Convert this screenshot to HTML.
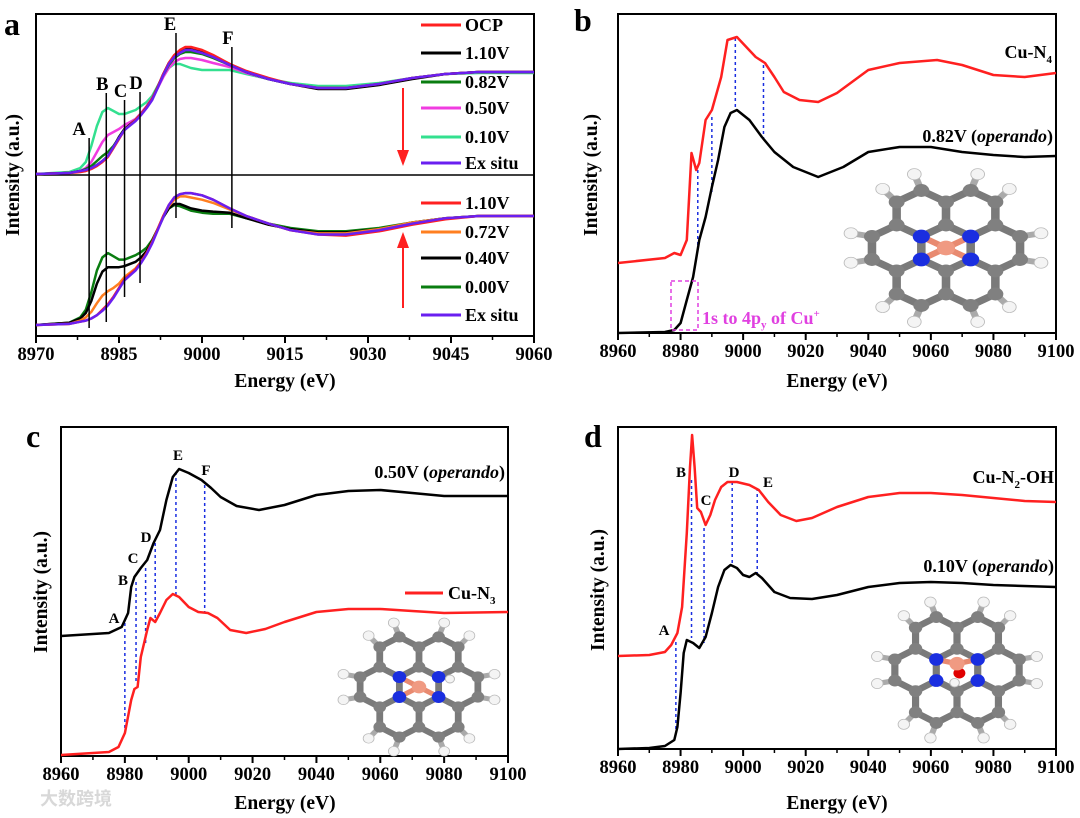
<!DOCTYPE html>
<html><head><meta charset="utf-8">
<style>
html,body{margin:0;padding:0;background:#fff;}
svg{display:block;font-family:"Liberation Serif","Noto Serif CJK SC",serif;}
.tk{font-size:18.5px;font-weight:bold;}
.at{font-size:19.5px;font-weight:bold;}
.pl{font-size:32px;font-weight:bold;}
.lg{font-size:18px;font-weight:bold;}
.an{font-size:15px;font-weight:bold;}
</style></head>
<body>
<svg id="fig" width="1080" height="818" viewBox="0 0 1080 818"></svg>
<script>
// ---------- Panel a data ----------
const aEnergy=[8970,8976,8978,8979,8980,8981,8982,8983,8984,8985,8986,8988,8989,8990,8991,8992,8993,8994,8995,8996,8997,8998,9000,9002,9005,9008,9012,9016,9021,9026,9032,9038,9044,9050,9060];
const aTopOCP=[0,0.01,0.02,0.03,0.05,0.08,0.12,0.17,0.26,0.35,0.44,0.54,0.60,0.67,0.75,0.87,1.00,1.11,1.19,1.24,1.27,1.27,1.24,1.19,1.10,1.03,0.96,0.90,0.86,0.86,0.90,0.96,1.00,1.02,1.02];
const aTop110=[0,0.01,0.03,0.04,0.06,0.09,0.13,0.18,0.27,0.37,0.45,0.54,0.60,0.67,0.75,0.87,1.00,1.11,1.18,1.23,1.25,1.25,1.23,1.18,1.10,1.02,0.95,0.90,0.85,0.85,0.89,0.95,1.00,1.02,1.02];
const aTop082=[0,0.01,0.03,0.05,0.08,0.13,0.18,0.22,0.28,0.36,0.44,0.54,0.60,0.67,0.75,0.87,0.99,1.09,1.16,1.20,1.22,1.22,1.20,1.16,1.09,1.02,0.95,0.90,0.86,0.86,0.90,0.96,1.00,1.02,1.02];
const aTop050=[0,0.01,0.03,0.06,0.12,0.22,0.32,0.39,0.42,0.45,0.49,0.55,0.61,0.68,0.76,0.86,0.97,1.06,1.12,1.15,1.16,1.16,1.14,1.11,1.07,1.01,0.95,0.90,0.86,0.86,0.90,0.96,1.00,1.02,1.02];
const aTop010=[0,0.02,0.06,0.12,0.28,0.48,0.62,0.66,0.63,0.60,0.60,0.64,0.68,0.72,0.78,0.88,0.98,1.06,1.10,1.10,1.08,1.06,1.04,1.04,1.04,1.00,0.95,0.91,0.88,0.88,0.91,0.96,1.00,1.01,1.01];
const aTopEx=[0,0.01,0.03,0.04,0.06,0.09,0.13,0.18,0.27,0.36,0.44,0.53,0.59,0.66,0.74,0.86,0.99,1.10,1.17,1.21,1.24,1.24,1.21,1.17,1.09,1.02,0.95,0.90,0.86,0.86,0.90,0.96,1.00,1.02,1.02];
const aBot110=[0,0.01,0.03,0.04,0.06,0.09,0.14,0.19,0.26,0.34,0.42,0.51,0.58,0.66,0.76,0.88,1.00,1.10,1.17,1.20,1.21,1.21,1.19,1.15,1.07,1.00,0.93,0.87,0.83,0.82,0.86,0.92,0.97,1.00,1.00];
const aBot072=[0,0.01,0.04,0.07,0.12,0.20,0.27,0.31,0.34,0.38,0.44,0.52,0.58,0.66,0.76,0.88,1.00,1.09,1.15,1.18,1.18,1.17,1.15,1.12,1.06,1.00,0.93,0.87,0.84,0.84,0.88,0.94,0.98,1.00,1.00];
const aBot040=[0,0.02,0.06,0.11,0.22,0.38,0.49,0.53,0.53,0.53,0.54,0.58,0.62,0.68,0.77,0.88,0.99,1.07,1.11,1.11,1.09,1.07,1.05,1.04,1.03,0.98,0.92,0.88,0.85,0.85,0.88,0.94,0.98,1.00,1.00];
const aBot000=[0,0.02,0.07,0.14,0.30,0.50,0.62,0.66,0.63,0.60,0.60,0.64,0.67,0.71,0.78,0.88,0.99,1.07,1.10,1.09,1.07,1.05,1.03,1.02,1.02,0.98,0.93,0.89,0.86,0.86,0.89,0.94,0.98,1.00,1.00];
const aBotEx=[0,0.01,0.03,0.04,0.06,0.09,0.13,0.18,0.25,0.33,0.41,0.50,0.57,0.65,0.75,0.87,0.99,1.10,1.17,1.20,1.21,1.21,1.19,1.15,1.07,1.00,0.93,0.87,0.83,0.83,0.87,0.93,0.98,1.00,1.00];
const aTicks=[8970,8985,9000,9015,9030,9045,9060];
const aMarkE=[8979.6,8982.7,8986,8988.8,8995.3,9005.4];
const aMarkLbl=["A","B","C","D","E","F"];
// ---------- Panel b data ----------
const bRedE=[8960,8975,8978,8980,8982,8983.5,8985,8986,8988,8990,8993,8995,8998,9001,9004,9007,9010,9013,9018,9024,9030,9040,9050,9062,9070,9080,9090,9100];
const bRedV=[0.70,0.75,0.80,0.78,0.93,1.80,1.63,1.70,2.13,2.23,2.56,2.93,2.96,2.86,2.76,2.70,2.56,2.41,2.33,2.31,2.40,2.63,2.70,2.73,2.68,2.58,2.56,2.60];
const bBlkE=[8960,8975,8978,8980,8982,8984,8986,8988,8990,8992,8994,8996,8998,9002,9006,9010,9016,9024,9032,9040,9050,9060,9070,9080,9090,9100];
const bBlkV=[0,0.01,0.03,0.10,0.33,0.56,0.93,1.16,1.46,1.73,2.06,2.20,2.23,2.13,1.96,1.81,1.66,1.56,1.66,1.81,1.86,1.86,1.81,1.78,1.76,1.77];
const bDashE=[8985.5,8990,8997.5,9006.5];
const cdTicks=[8960,8980,9000,9020,9040,9060,9080,9100];
// ---------- Panel c data ----------
const cBlkE=[8960,8975,8979,8981,8982,8983,8985,8987,8989,8991,8993,8995,8997,9000,9004,9007,9010,9015,9022,9030,9040,9050,9060,9070,9080,9100];
const cBlkV=[1.20,1.23,1.29,1.43,1.69,1.79,1.88,1.96,2.13,2.26,2.56,2.79,2.87,2.83,2.76,2.68,2.59,2.50,2.46,2.51,2.61,2.65,2.66,2.63,2.60,2.60];
const cRedE=[8960,8975,8978,8980,8982,8983,8984,8985,8987,8988,8989.5,8991,8993,8995,8997,9000,9003,9006,9009,9013,9018,9024,9030,9040,9050,9060,9070,9080,9100];
const cRedV=[0.01,0.04,0.09,0.23,0.56,0.67,0.69,0.99,1.26,1.38,1.34,1.43,1.56,1.62,1.59,1.49,1.44,1.43,1.38,1.26,1.23,1.27,1.34,1.44,1.47,1.47,1.45,1.43,1.44];
const cDashE=[8980,8983.5,8986.5,8989.5,8996,9005];
// ---------- Panel d data ----------
const dRedE=[8960,8970,8975,8977,8979,8980.5,8982,8983,8983.7,8984.5,8985.3,8986.5,8988,8989.5,8991,8993,8995,8998,9002,9005,9008,9012,9017,9022,9030,9040,9050,9060,9070,9080,9090,9100];
const dRedV=[0.93,0.94,0.97,1.04,1.16,1.42,2.16,2.82,3.14,2.82,2.41,2.37,2.24,2.34,2.49,2.62,2.67,2.67,2.64,2.59,2.47,2.34,2.28,2.31,2.42,2.52,2.56,2.56,2.54,2.51,2.48,2.47];
const dBlkE=[8960,8970,8975,8978,8979,8980,8981,8982,8984,8986,8988,8990,8992,8994,8996,8998,9000,9002,9004,9006,9010,9015,9022,9030,9040,9050,9060,9070,9080,9100];
const dBlkV=[0,0.01,0.03,0.09,0.22,0.56,0.96,1.09,1.06,1.01,1.12,1.36,1.62,1.79,1.84,1.81,1.74,1.72,1.76,1.71,1.57,1.51,1.50,1.54,1.62,1.66,1.67,1.66,1.64,1.62];
const dDashE=[8978.5,8983.5,8987.5,8996.5,9004.5];

const NS="http://www.w3.org/2000/svg";
const svg=document.getElementById('fig');
function el(tag,attrs,parent,txt){const e=document.createElementNS(NS,tag);for(const k in attrs)e.setAttribute(k,attrs[k]);if(txt!==undefined)e.textContent=txt;(parent||svg).appendChild(e);return e;}
function lin(d0,d1,r0,r1){return v=>r0+(v-d0)*(r1-r0)/(d1-d0);}
function curve(g,E,V,xs,ys,color,w,name){
  let d='';for(let i=0;i<E.length;i++){d+=(i?'L':'M')+xs(E[i]).toFixed(1)+','+ys(V[i]).toFixed(1);}
  const p=el('path',{d:d,fill:'none',stroke:color,'stroke-width':w,'stroke-linejoin':'round'},g);
  
  
  return p;
}
function frame(x0,x1,y0,y1,ticks,minorStep,xs,name){
  const g=el('g',{});
  
  
  el('rect',{x:x0,y:y0,width:x1-x0,height:y1-y0,fill:'none',stroke:'#000','stroke-width':2},g);
  for(let v=ticks[0];v<=ticks[ticks.length-1]+0.01;v+=minorStep){
    const x=xs(v);el('line',{x1:x,x2:x,y1:y1,y2:y1+4,stroke:'#000','stroke-width':1.5},g);
  }
  ticks.forEach(t=>{const x=xs(t);el('line',{x1:x,x2:x,y1:y1,y2:y1+7,stroke:'#000','stroke-width':2},g);
    const tx=el('text',{x:x,y:y1+24,'text-anchor':'middle',class:'tk'},g,String(t));
    
    });
  return g;
}
function label(x,y,txt,cls,name,anchor,rot,color){
  const t=el('text',{x:x,y:y,class:cls,'text-anchor':anchor||'middle',fill:color||'#000'});
  if(rot)t.setAttribute('transform','rotate(-90 '+x+' '+y+')');
  t.innerHTML=txt;
  
  
  return t;
}
function molecule(cx,cy,s,variant,name,sx,sy){
  const g=el('g',{transform:'translate('+cx+' '+cy+') scale('+sx+' '+sy+') translate('+(-cx)+' '+(-cy)+')'});
  
  
  const r3=Math.sqrt(3);const verts={};const edges={};
  const key=(x,y)=>Math.round(x*10)+'_'+Math.round(y*10);
  for(let k=0;k<6;k++){const a=k*Math.PI/3;const hx=cx+r3*s*Math.cos(a),hy=cy+r3*s*Math.sin(a);
    const pts=[];for(let j=0;j<6;j++){const b=Math.PI/6+j*Math.PI/3;const px=hx+s*Math.cos(b),py=hy+s*Math.sin(b);const kk=key(px,py);
      if(!verts[kk])verts[kk]={x:px,y:py,n:0};verts[kk].n++;pts.push(kk);}
    for(let j=0;j<6;j++){const a1=pts[j],a2=pts[(j+1)%6];const ek=[a1,a2].sort().join('|');edges[ek]=[verts[a1],verts[a2]];}
  }
  for(const ek in edges){const [p,q]=edges[ek];el('line',{x1:p.x,y1:p.y,x2:q.x,y2:q.y,stroke:'#7a7a7a','stroke-width':s*0.3,'stroke-linecap':'round'},g);}
  const inner=[];for(let j=0;j<6;j++){const b=Math.PI/6+j*Math.PI/3;inner.push({x:cx+s*Math.cos(b),y:cy+s*Math.sin(b),j:j});}
  const nIdx=[0,2,3,5];
  const cuBond=variant==='b'?[0,2,3,5]:variant==='c'?[0,2,3]:[3,5];
  const cu={x:cx,y:variant==='d'?cy-s*0.3:cy};
  cuBond.forEach(j=>{const p=inner[j];el('line',{x1:cu.x,y1:cu.y,x2:p.x,y2:p.y,stroke:'#e88a70','stroke-width':s*0.25},g);});
  for(const kk in verts){const v=verts[kk];if(v.n===1){const dx=v.x-cx,dy=v.y-cy,L=Math.hypot(dx,dy);
    const hx=v.x+dx/L*s*0.75,hy=v.y+dy/L*s*0.75;el('line',{x1:v.x,y1:v.y,x2:hx,y2:hy,stroke:'#aaa','stroke-width':s*0.25},g);
    el('circle',{cx:hx,cy:hy,r:s*0.24,fill:'#f4f4f4',stroke:'#bbb','stroke-width':0.8},g);}}
  for(const kk in verts){const v=verts[kk];
    const j=inner.findIndex(p=>Math.hypot(p.x-v.x,p.y-v.y)<1);
    const isN=j>=0&&nIdx.includes(j);
    el('circle',{cx:v.x,cy:v.y,r:isN?s*0.3:s*0.28,fill:isN?'#1a2ee0':'#808080'},g);}
  if(variant==='d'){el('circle',{cx:cu.x+s*0.1,cy:cu.y+s*0.45,r:s*0.25,fill:'#e00000'},g);el('circle',{cx:cu.x-s*0.1,cy:cu.y+s*0.9,r:s*0.2,fill:'#f4f4f4',stroke:'#bbb'},g);}
  if(variant==='c'){el('circle',{cx:inner[5].x+s*0.5,cy:inner[5].y+s*0.1,r:s*0.2,fill:'#f4f4f4',stroke:'#bbb'},g);}
  el('circle',{cx:cu.x,cy:cu.y,r:s*0.32,fill:'#f09a82'},g);
}

// ================= Panel a =================
(function(){
  const x0=36,x1=534,y0=14,y1=336;
  const xs=lin(8970,9060,x0,x1);
  const ysT=lin(0,1,174,74), ysB=lin(0,1,325,216);
  frame(x0,x1,y0,y1,aTicks,7.5,xs,'panel-a');
  el('line',{x1:x0,x2:x1,y1:175,y2:175,stroke:'#000','stroke-width':1.5});
  const g=el('g',{});
  
  
  const top=[[aTop010,'#33e08f','0.10V'],[aTop050,'#f03ce0','0.50V'],[aTop082,'#0a7d10','0.82V'],[aTop110,'#000','1.10V'],[aTopOCP,'#ff2020','OCP'],[aTopEx,'#6a1ff0','Ex situ']];
  top.forEach(s=>curve(g,aEnergy,s[0],xs,ysT,s[1],2.5,'line-top-'+s[2]));
  const bot=[[aBot000,'#0a7d10','0.00V'],[aBot040,'#000','0.40V'],[aBot072,'#ff7f20','0.72V'],[aBot110,'#ff2020','1.10V'],[aBotEx,'#6a1ff0','Ex situ']];
  bot.forEach(s=>curve(g,aEnergy,s[0],xs,ysB,s[1],2.5,'line-bottom-'+s[2]));
  const tops=[138,93,100,92,33,47], bots=[328,322,297,283,218,228];
  aMarkE.forEach((e,i)=>{const x=xs(e);const l=el('line',{x1:x,x2:x,y1:tops[i],y2:bots[i],stroke:'#000','stroke-width':1.5});
    
    
    label(x-(i===4?6:i===0?10:4),tops[i]-3,aMarkLbl[i],'tk','marker-label-'+aMarkLbl[i],'middle');});
  const legT=[['OCP','#ff2020',25],['1.10V','#000',53],['0.82V','#0a7d10',82],['0.50V','#f03ce0',108],['0.10V','#33e08f',137],['Ex situ','#6a1ff0',163]];
  const legB=[['1.10V','#ff2020',203],['0.72V','#ff7f20',232],['0.40V','#000',258],['0.00V','#0a7d10',287],['Ex situ','#6a1ff0',315]];
  legT.concat(legB).forEach(l=>{const ln=el('line',{x1:421,x2:461,y1:l[2],y2:l[2],stroke:l[1],'stroke-width':3});
    
    
    label(465,l[2]+6,l[0],'lg','legend-entry','start');});
  el('line',{x1:403,x2:403,y1:88,y2:152,stroke:'#ff2020','stroke-width':2});
  el('path',{d:'M397,150 L409,150 L403,166 Z',fill:'#ff2020'});
  el('line',{x1:403,x2:403,y1:308,y2:246,stroke:'#ff2020','stroke-width':2});
  el('path',{d:'M397,248 L409,248 L403,232 Z',fill:'#ff2020'});
  label(285,387,'Energy (eV)','at','x-axis-title-a');
  label(19,175,'Intensity (a.u.)','at','y-axis-title-a','middle',true);
  label(4,35,'a','pl','panel-label-a','start');
})();

// ================= Panel b =================
(function(){
  const x0=618,x1=1056,y0=14,y1=333;
  const xs=lin(8960,9100,x0,x1), ys=lin(0,1,333,233);
  frame(x0,x1,y0,y1,cdTicks,10,xs,'panel-b');
  const g=el('g',{});
  
  
  const dashT=[170,117,38,65], dashB=[247,195,108,142];
  bDashE.forEach((e,i)=>{const l=el('line',{x1:xs(e),x2:xs(e),y1:dashT[i],y2:dashB[i],stroke:'#1a2ee0','stroke-width':1.5,'stroke-dasharray':'3,3'},g);
    
    });
  curve(g,bRedE,bRedV,xs,ys,'#ff2020',2.5,'line-cu-n4');
  curve(g,bBlkE,bBlkV,xs,ys,'#000',2.5,'line-082v-operando');
  el('rect',{x:671,y:281,width:27,height:49,fill:'none',stroke:'#e040e0','stroke-width':1.5,'stroke-dasharray':'4,3'});
  label(702,324,'1s to 4p<tspan font-size="11" dy="4">y</tspan><tspan dy="-4"> of Cu</tspan><tspan font-size="11" dy="-7">+</tspan>','lg','annotation-1s-4py','start',false,'#e040e0');
  label(1052,58,'Cu-N<tspan font-size="11" dy="5">4</tspan>','lg','label-cu-n4','end');
  label(1053,142,'0.82V (<tspan font-style="italic">operando</tspan>)','lg','label-082v','end');
  molecule(946,248,25,'b','molecule-cu-n4',1.14,0.92);
  label(837,387,'Energy (eV)','at','x-axis-title-b');
  label(597,175,'Intensity (a.u.)','at','y-axis-title-b','middle',true);
  label(574,31,'b','pl','panel-label-b','start');
})();

// ================= Panel c =================
(function(){
  const x0=61,x1=508,y0=427,y1=756;
  const xs=lin(8960,9100,x0,x1), ys=lin(0,1,756,656);
  frame(x0,x1,y0,y1,cdTicks,10,xs,'panel-c');
  const g=el('g',{});
  
  
  const dT=[623,582,568,543,472,485], dB=[733,683,643,620,597,612];
  cDashE.forEach((e,i)=>{const l=el('line',{x1:xs(e),x2:xs(e),y1:dT[i],y2:dB[i],stroke:'#1a2ee0','stroke-width':1.5,'stroke-dasharray':'3,3'},g);
    
    });
  curve(g,cRedE,cRedV,xs,ys,'#ff2020',2.5,'line-cu-n3');
  curve(g,cBlkE,cBlkV,xs,ys,'#000',2.5,'line-050v-operando');
  [['A',114,623],['B',123,585],['C',133,563],['D',146,542],['E',178,460],['F',206,475]].forEach(a=>label(a[1],a[2],a[0],'an','marker-label-'+a[0]));
  label(505,478,'0.50V (<tspan font-style="italic">operando</tspan>)','lg','label-050v','end');
  const ln=el('line',{x1:405,x2:443,y1:593,y2:593,stroke:'#ff2020','stroke-width':3});
  
  
  label(448,599,'Cu-N<tspan font-size="11" dy="5">3</tspan>','lg','legend-entry-cu-n3','start');
  molecule(419,687,22,'c','molecule-cu-n3',1.03,0.91);
  label(285,809,'Energy (eV)','at','x-axis-title-c');
  label(47,592,'Intensity (a.u.)','at','y-axis-title-c','middle',true);
  label(26,447,'c','pl','panel-label-c','start');
  const wm=label(40,805,'大数跨境','lg','watermark','start',false,'#d8d8d8');
  wm.setAttribute('font-family','"Noto Sans CJK SC",sans-serif');
})();

// ================= Panel d =================
(function(){
  const x0=618,x1=1056,y0=427,y1=749;
  const xs=lin(8960,9100,x0,x1), ys=lin(0,1,749,649);
  frame(x0,x1,y0,y1,cdTicks,10,xs,'panel-d');
  const g=el('g',{});
  
  
  const dT=[642,480,528,482,488], dB=[733,638,643,565,573];
  dDashE.forEach((e,i)=>{const l=el('line',{x1:xs(e),x2:xs(e),y1:dT[i],y2:dB[i],stroke:'#1a2ee0','stroke-width':1.5,'stroke-dasharray':'3,3'},g);
    
    });
  curve(g,dRedE,dRedV,xs,ys,'#ff2020',2.5,'line-cu-n2-oh');
  curve(g,dBlkE,dBlkV,xs,ys,'#000',2.5,'line-010v-operando');
  [['A',664,635],['B',681,477],['C',706,505],['D',734,477],['E',768,487]].forEach(a=>label(a[1],a[2],a[0],'an','marker-label-'+a[0]));
  label(1054,483,'Cu-N<tspan font-size="11" dy="5">2</tspan><tspan dy="-5">-OH</tspan>','lg','label-cu-n2-oh','end');
  label(1054,572,'0.10V (<tspan font-style="italic">operando</tspan>)','lg','label-010v','end');
  molecule(957,670,23,'d','molecule-cu-n2-oh',1.04,0.92);
  label(837,809,'Energy (eV)','at','x-axis-title-d');
  label(604,590,'Intensity (a.u.)','at','y-axis-title-d','middle',true);
  label(584,447,'d','pl','panel-label-d','start');
})();
</script>
</body></html>
